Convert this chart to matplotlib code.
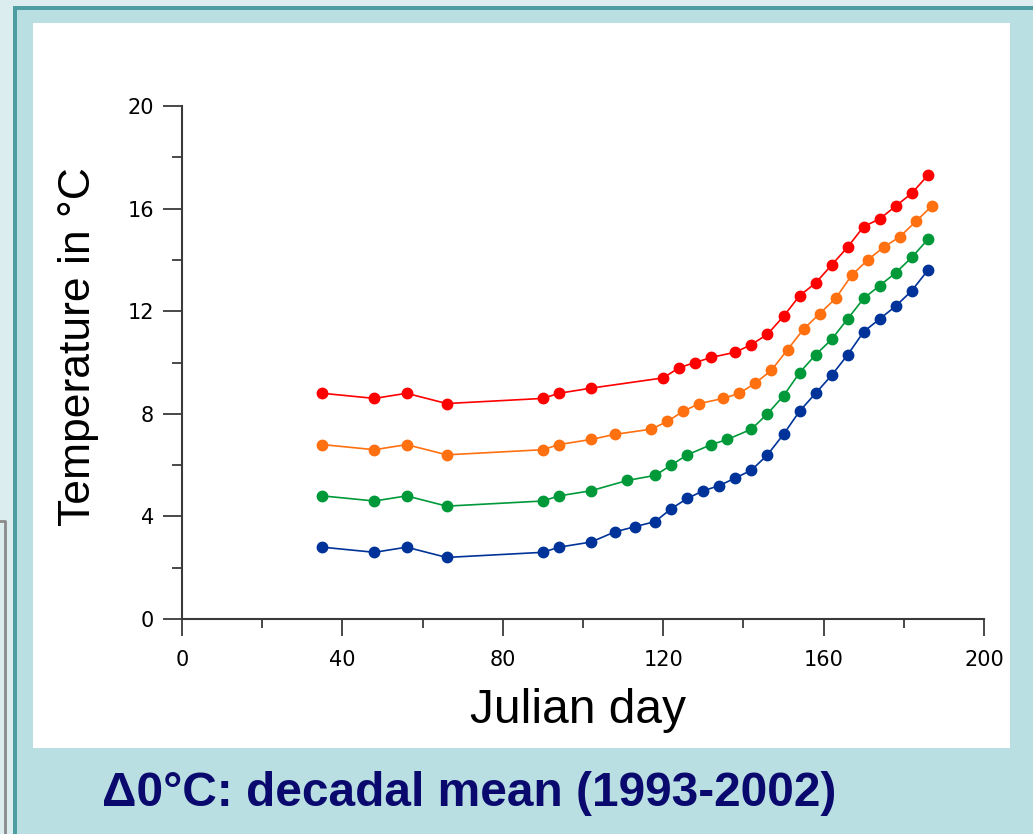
import matplotlib
matplotlib.use("Agg")
import matplotlib.pyplot as plt
from matplotlib.patches import Rectangle
from matplotlib.lines import Line2D

plt.rcParams['font.family'] = ['Liberation Sans', 'DejaVu Sans']

# data: julian day and temperature (deg C) per curve
red_days = [35, 48, 56, 66, 90, 94, 102, 120, 124, 128, 132, 138, 142, 146,
            150, 154, 158, 162, 166, 170, 174, 178, 182, 186]
red_temp = [8.8, 8.6, 8.8, 8.4, 8.6, 8.8, 9.0, 9.4, 9.8, 10.0, 10.2, 10.4, 10.7,
            11.1, 11.8, 12.6, 13.1, 13.8, 14.5, 15.3, 15.6, 16.1, 16.6, 17.3]

orange_days = [35, 48, 56, 66, 90, 94, 102, 108, 117, 121, 125, 129, 135, 139,
               143, 147, 151, 155, 159, 163, 167, 171, 175, 179, 183, 187]
orange_temp = [6.8, 6.6, 6.8, 6.4, 6.6, 6.8, 7.0, 7.2, 7.4, 7.7, 8.1, 8.4, 8.6,
               8.8, 9.2, 9.7, 10.5, 11.3, 11.9, 12.5, 13.4, 14.0, 14.5, 14.9,
               15.5, 16.1]

green_days = [35, 48, 56, 66, 90, 94, 102, 111, 118, 122, 126, 132, 136, 142,
              146, 150, 154, 158, 162, 166, 170, 174, 178, 182, 186]
green_temp = [4.8, 4.6, 4.8, 4.4, 4.6, 4.8, 5.0, 5.4, 5.6, 6.0, 6.4, 6.8, 7.0,
              7.4, 8.0, 8.7, 9.6, 10.3, 10.9, 11.7, 12.5, 13.0, 13.5, 14.1, 14.8]

blue_days = [35, 48, 56, 66, 90, 94, 102, 108, 113, 118, 122, 126, 130, 134,
             138, 142, 146, 150, 154, 158, 162, 166, 170, 174, 178, 182, 186]
blue_temp = [2.8, 2.6, 2.8, 2.4, 2.6, 2.8, 3.0, 3.4, 3.6, 3.8, 4.3, 4.7, 5.0,
             5.2, 5.5, 5.8, 6.4, 7.2, 8.1, 8.8, 9.5, 10.3, 11.2, 11.7, 12.2,
             12.8, 13.6]

x_major = [0, 40, 80, 120, 160, 200]
y_major = [0, 4, 8, 12, 16, 20]

W, H = 1033, 834
fig = plt.figure(figsize=(W / 100, H / 100), dpi=100)
fig.patch.set_facecolor('#dbedef')


def box(x0, y0, x1, y1, color):
    # pixel box (top-left origin) -> figure fraction rectangle
    fig.patches.append(Rectangle((x0 / W, 1 - y1 / H), (x1 - x0) / W, (y1 - y0) / H,
                                 transform=fig.transFigure, facecolor=color,
                                 edgecolor='none', zorder=-10))


box(13, 6, W, H, '#4e9da2')
box(17, 10, W, H, '#badfe2')
box(33, 23, 1010, 748, 'white')
fig.lines.append(Line2D([0, 4.5 / W, 4.5 / W], [1 - 521 / H, 1 - 521 / H, 0],
                        transform=fig.transFigure, color='#8a8a8a', lw=2))

ax = fig.add_axes([182 / W, 1 - 619 / H, 802 / W, 513 / H])
ax.set_facecolor('none')

curves = [(red_days, red_temp, '#ff0000'),
          (orange_days, orange_temp, '#ff7011'),
          (green_days, green_temp, '#00993a'),
          (blue_days, blue_temp, '#003399')]
for d, t, c in curves:
    ax.plot(d, t, color=c, lw=1.2, marker='o', ms=7.5, mec=c, mfc=c, clip_on=False)

ax.set_xlim(0, 200)
ax.set_ylim(0, 20)
ax.set_xticks(x_major)
ax.set_xticks([20, 60, 100, 140, 180], minor=True)
ax.set_yticks(y_major)
ax.set_yticks([2, 6, 10, 14, 18], minor=True)
for s in ['top', 'right']:
    ax.spines[s].set_visible(False)
for s in ['left', 'bottom']:
    ax.spines[s].set_color('#3a3a3a')
    ax.spines[s].set_linewidth(1.5)
ax.tick_params(axis='x', which='major', direction='out', length=12, width=1.3,
               color='#3a3a3a', labelsize=15, pad=10)
ax.tick_params(axis='x', which='minor', direction='out', length=6.5, width=1.3,
               color='#3a3a3a')
ax.tick_params(axis='y', which='major', direction='out', length=14, width=1.3,
               color='#3a3a3a', labelsize=15, pad=6)
ax.tick_params(axis='y', which='minor', direction='out', length=7, width=1.3,
               color='#3a3a3a')
for lab in ax.get_xticklabels() + ax.get_yticklabels():
    lab.set_fontfamily('DejaVu Sans')

fig.text(79 / W, 1 - 347 / H, 'Temperature in °C', rotation=90, ha='center',
         va='center', fontsize=32)
fig.text(578 / W, 1 - 723 / H, 'Julian day', ha='center', va='baseline', fontsize=34.5)
fig.text(469 / W, 1 - 806 / H, 'Δ0°C: decadal mean (1993-2002)', ha='center',
         va='baseline', fontsize=34.5, fontweight='bold', color='#0a0a6e')

fig.savefig('out.png', dpi=100)
